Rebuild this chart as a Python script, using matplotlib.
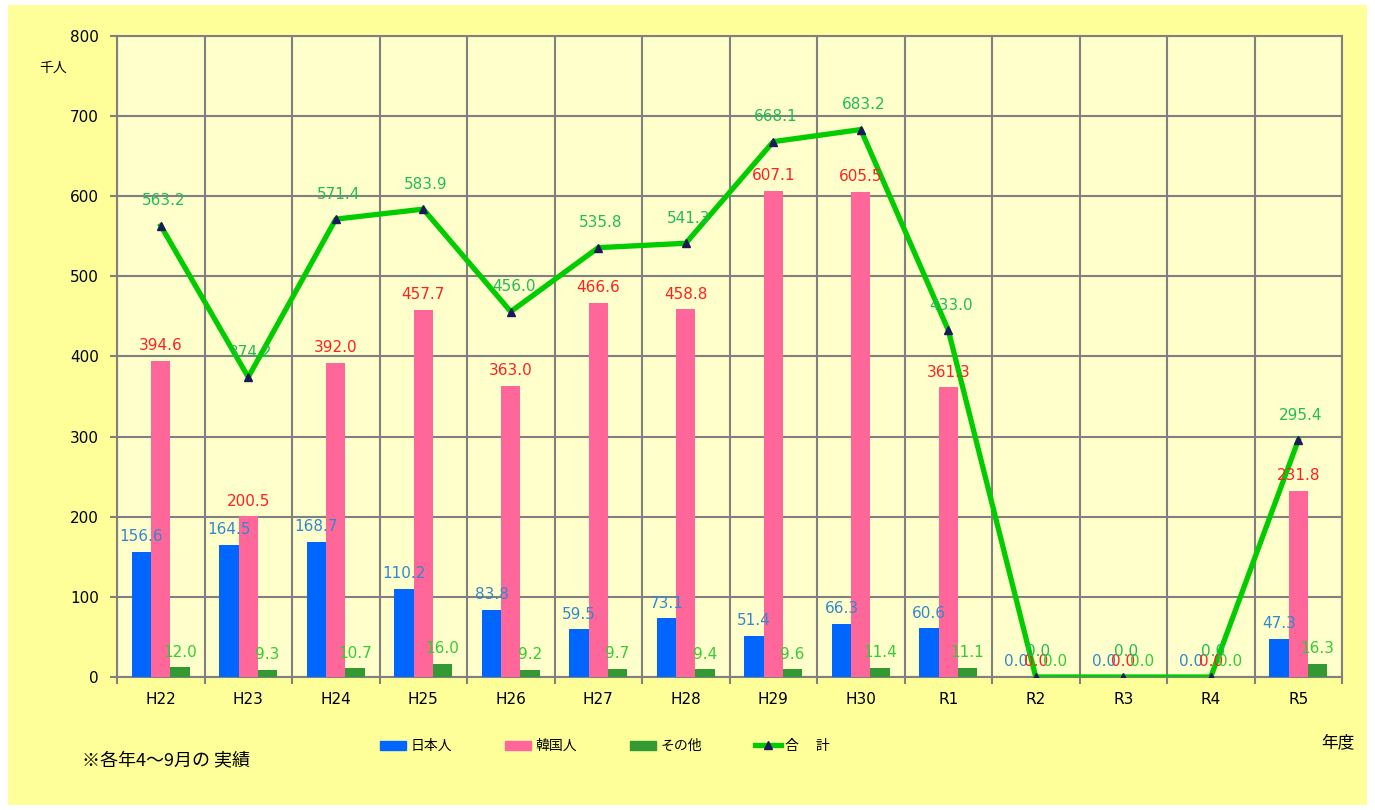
import numpy as np
import matplotlib.pyplot as plt
from matplotlib.patches import Patch, Rectangle
from matplotlib.lines import Line2D

plt.rcParams['font.family'] = ['DejaVu Sans', 'Noto Sans CJK JP']

# Data (thousand people, Apr-Sep of each fiscal year)
years = ['H22', 'H23', 'H24', 'H25', 'H26', 'H27', 'H28', 'H29', 'H30', 'R1', 'R2', 'R3', 'R4', 'R5']
japanese = [156.6, 164.5, 168.7, 110.2, 83.8, 59.5, 73.1, 51.4, 66.3, 60.6, 0.0, 0.0, 0.0, 47.3]
korean = [394.6, 200.5, 392.0, 457.7, 363.0, 466.6, 458.8, 607.1, 605.5, 361.3, 0.0, 0.0, 0.0, 231.8]
others = [12.0, 9.3, 10.7, 16.0, 9.2, 9.7, 9.4, 9.6, 11.4, 11.1, 0.0, 0.0, 0.0, 16.3]
total = [563.2, 374.2, 571.4, 583.9, 456.0, 535.8, 541.3, 668.1, 683.2, 433.0, 0.0, 0.0, 0.0, 295.4]

c_jp, c_kr, c_ot, c_tot = '#0066FF', '#FF6699', '#339933', '#00CC00'
jp_txt, kr_txt, ot_txt, tot_txt = '#3388CC', '#FF2020', '#33CC33', '#22BB55'

fig = plt.figure(figsize=(13.75, 8.1), dpi=100)
fig.patch.set_facecolor('white')
fig.patches.append(Rectangle((0.006, 0.006), 0.988, 0.988, transform=fig.transFigure,
                             facecolor='#FFFF99', edgecolor='none', zorder=-10))

ax = fig.add_axes([0.0851, 0.1642, 0.8909, 0.7914])
ax.set_facecolor('#FFFFCC')

x = np.arange(len(years))
w = 0.22
ax.bar(x - w, japanese, w, color=c_jp, zorder=3)
ax.bar(x, korean, w, color=c_kr, zorder=3)
ax.bar(x + w, others, w, color=c_ot, zorder=3)
ax.plot(x, total, color=c_tot, lw=3.8, marker='^', ms=6, mfc='#1A1A5A', mec='#1A1A5A', zorder=4)

lab_fs = 11
for xs, vals, col in [(x - w, japanese, jp_txt), (x, korean, kr_txt), (x + w, others, ot_txt)]:
    for xi, v in zip(xs, vals):
        ax.annotate(f'{v:.1f}', (xi, v), xytext=(0, 11), textcoords='offset points',
                    ha='center', va='center', color=col, fontsize=lab_fs, zorder=5)
for xi, v in zip(x, total):
    ax.annotate(f'{v:.1f}', (xi, v), xytext=(2, 18), textcoords='offset points',
                ha='center', va='center', color=tot_txt, fontsize=lab_fs, zorder=5)

ax.set_xlim(-0.5, len(years) - 0.5)
ax.set_ylim(0, 800)
ax.set_yticks(np.arange(0, 801, 100))
ax.set_xticks(x)
ax.set_xticklabels(years)
ax.set_xticks(np.arange(-0.5, len(years), 1), minor=True)
ax.tick_params(axis='x', which='major', length=0, pad=11, labelsize=11)
ax.tick_params(axis='x', which='minor', length=5, color='#808080', width=1.5)
ax.tick_params(axis='y', length=5, color='#808080', width=1.5, labelsize=11, pad=8)
ax.grid(axis='y', color='#808080', lw=1.5, zorder=1)
ax.grid(axis='x', which='minor', color='#808080', lw=1.5, zorder=1)
for s in ax.spines.values():
    s.set_color('#808080')
    s.set_linewidth(1.5)

fig.text(0.0284, 0.916, '千人', fontsize=10, family=['Noto Sans CJK JP'], va='center')
fig.text(0.9607, 0.083, '年度', fontsize=12, family=['Noto Sans CJK JP'], va='center')
fig.text(0.0596, 0.0605, '※各年4～9月の 実績', fontsize=13, family=['Noto Sans CJK JP'], va='center')

handles = [Patch(color=c_jp), Patch(color=c_kr), Patch(color=c_ot),
           Line2D([], [], color=c_tot, lw=3.8, marker='^', ms=6, mfc='#1A1A5A', mec='#1A1A5A')]
fig.legend(handles, ['日本人', '韓国人', 'その他', '合　 計'], loc='center', bbox_to_anchor=(0.44, 0.079),
           ncol=4, frameon=False, handlelength=1.9, handleheight=0.6, columnspacing=3.8,
           handletextpad=0.3, prop={'family': ['Noto Sans CJK JP'], 'size': 10})

fig.savefig('out.png', dpi=100, facecolor=fig.get_facecolor())
